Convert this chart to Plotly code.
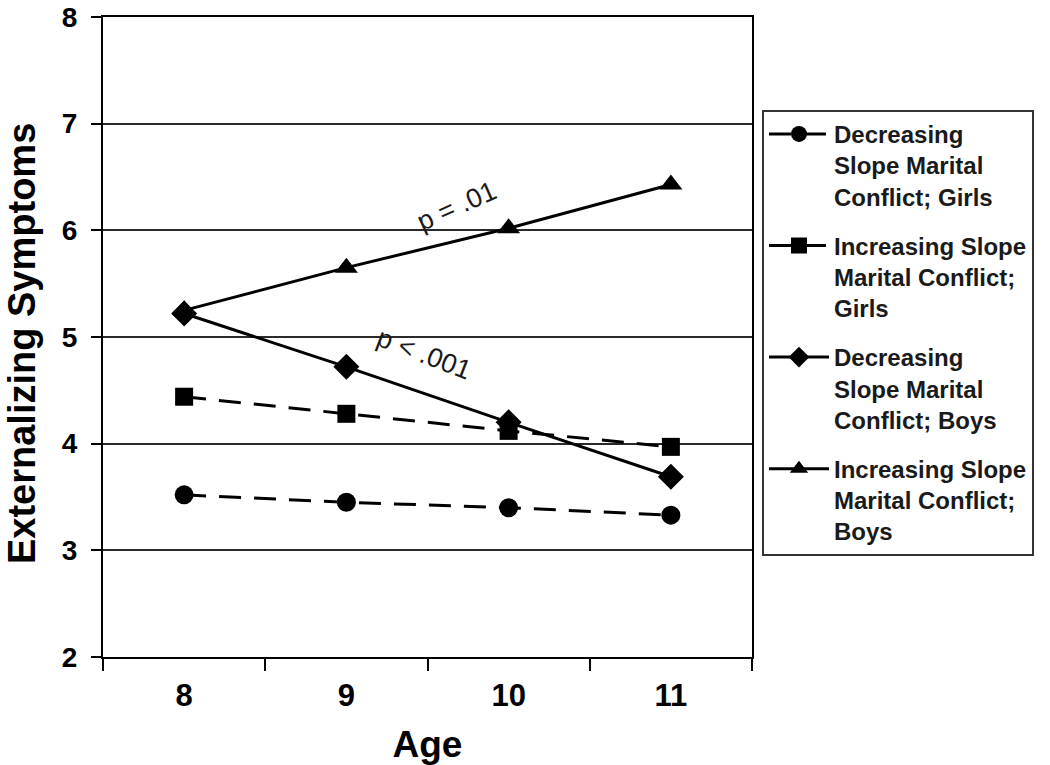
import plotly.graph_objects as go

ages = ["8", "9", "10", "11"]
dec_girls = [3.52, 3.45, 3.40, 3.33]
inc_girls = [4.44, 4.28, 4.12, 3.97]
dec_boys = [5.22, 4.72, 4.20, 3.69]
inc_boys = [5.25, 5.65, 6.02, 6.43]
names = [
    "Decreasing<br>Slope Marital<br>Conflict; Girls",
    "Increasing Slope<br>Marital Conflict;<br>Girls",
    "Decreasing<br>Slope Marital<br>Conflict; Boys",
    "Increasing Slope<br>Marital Conflict;<br>Boys",
]
y_ticks = [2, 3, 4, 5, 6, 7, 8]

series = [
    (dec_girls, names[0], "circle", "22px,13px", 19),
    (inc_girls, names[1], "square", "22px,13px", 18),
    (dec_boys, names[2], "diamond", "solid", 20),
    (inc_boys, names[3], "triangle-up", "solid", 20),
]

fig = go.Figure()
for i, (vals, name, sym, dash, size) in enumerate(series):
    fig.add_trace(go.Scatter(
        x=ages, y=vals, name=name, mode="lines+markers", legendgroup=f"g{i}",
        line=dict(color="black", width=3, dash=dash),
        marker=dict(symbol=sym, size=size, color="black"),
    ))

ff = "Liberation Sans, Arial, sans-serif"

fig.update_layout(
    width=1050, height=765,
    margin=dict(l=103, r=298, t=17, b=108),
    plot_bgcolor="white", paper_bgcolor="white",
    showlegend=True,
    legend=dict(
        x=1.0154, y=0.855, xanchor="left", yanchor="top",
        bordercolor="#333", borderwidth=2,
        font=dict(family=ff, size=24, color="#1a1a1a", weight="bold"),
        valign="top", itemwidth=60, tracegroupgap=15,
        traceorder="grouped",
    ),
    xaxis=dict(
        type="category", range=[-0.5, 3.5],
        showgrid=False, showline=True, linecolor="black", linewidth=2,
        ticks="outside", tickson="boundaries", ticklen=12, tickwidth=2, tickcolor="black",
        mirror=True, automargin=False, ticklabelstandoff=10,
        tickfont=dict(family=ff, size=31, color="black", weight="bold"),
        title=dict(text="Age", font=dict(family=ff, size=37, color="black", weight="bold"), standoff=28),
    ),
    yaxis=dict(
        range=[2, 8], tickvals=y_ticks,
        showgrid=True, gridcolor="#2a2a2a", gridwidth=2,
        showline=True, linecolor="black", linewidth=2, mirror=True,
        ticks="outside", ticklen=10, tickwidth=2, tickcolor="black",
        tickfont=dict(family=ff, size=28, color="black", weight="bold"),
        ticklabeloverflow="allow", automargin=False, ticklabelstandoff=8,
        zeroline=False,
    ),
    annotations=[
        dict(x=-0.1248, y=0.489, xref="paper", yref="paper", text="Externalizing Symptoms",
             showarrow=False, textangle=-90, xanchor="center", yanchor="middle",
             font=dict(family=ff, size=38, color="black", weight="bold")),
        dict(x=1.68, y=6.23, xref="x", yref="y", text="p = .01", showarrow=False,
             textangle=-24, font=dict(family=ff, size=27, color="#1a1a1a")),
        dict(x=1.48, y=4.84, xref="x", yref="y", text="p < .001", showarrow=False,
             textangle=21, font=dict(family=ff, size=27, color="#1a1a1a")),
    ],
)

fig.write_html("out.html", post_script="document.body.style.margin='0';",
               config={"displayModeBar": False})
